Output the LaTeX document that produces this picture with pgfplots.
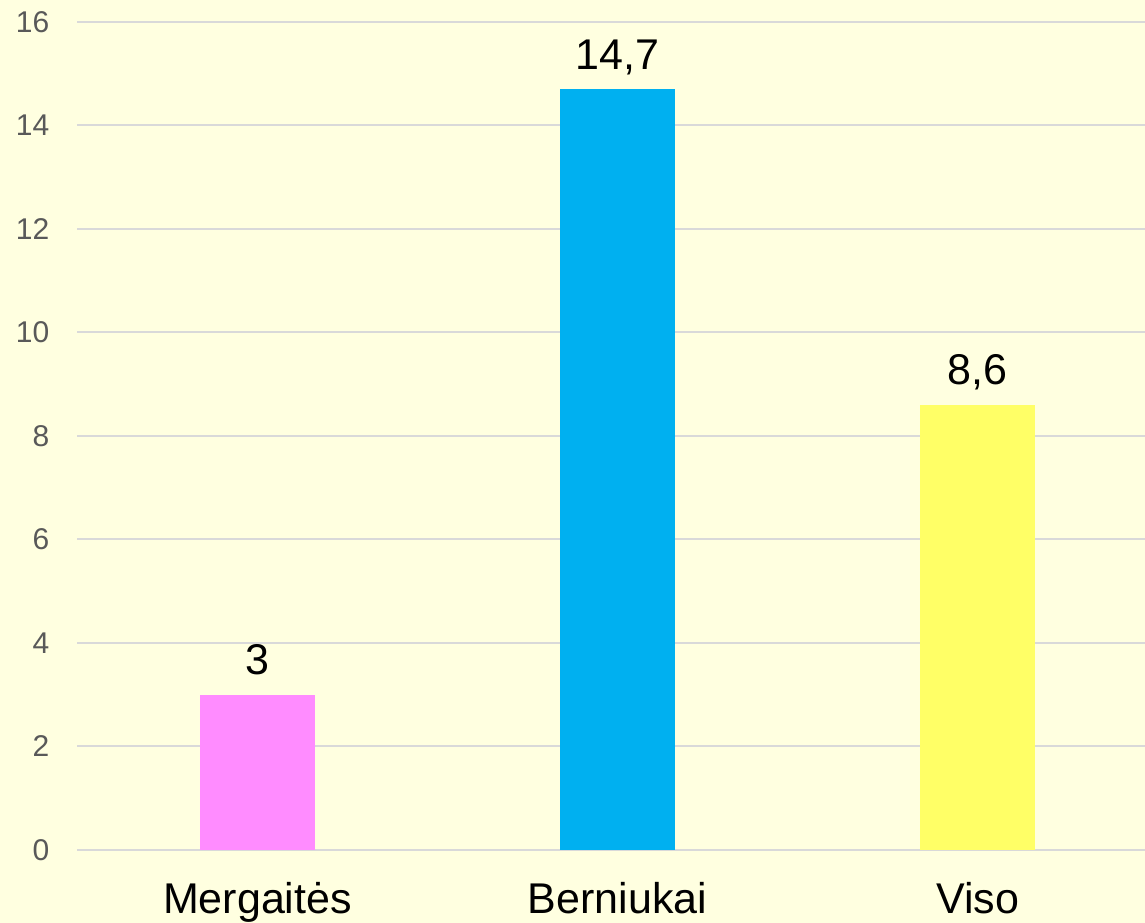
\documentclass[border=0pt]{standalone}
\usepackage{pgfplots}
\pgfplotsset{compat=1.18}
\usepackage{fontspec}
\setmainfont{Liberation Sans}
\definecolor{bgc}{HTML}{FFFFE0}
\definecolor{gridc}{HTML}{D9D9D9}
\definecolor{tickc}{HTML}{595959}
\definecolor{pinkc}{HTML}{FF8CFF}
\definecolor{bluec}{HTML}{00B0F0}
\definecolor{yelc}{HTML}{FFFF66}
\begin{document}
\begin{tikzpicture}
\fill[bgc] (-77.5bp,-73bp) rectangle (1067.5bp,850bp);
\useasboundingbox (-77.5bp,-73bp) rectangle (1067.5bp,850bp);
\begin{axis}[
 at={(0,0)}, anchor=south west,
 scale only axis, width=1067.5bp, height=828bp,
 xmin=-0.5, xmax=2.465, ymin=0, ymax=16,
 axis line style={draw=none},
 major tick length=0pt,
 ytick={0,2,...,16},
 ymajorgrids, grid style={gridc, line width=2bp},
 xtick={0,1,2}, xticklabels={Mergaitės,Berniukai,Viso},
 /pgf/number format/assume math mode=true,
 yticklabel style={font=\fontsize{30bp}{34bp}\selectfont, text=tickc, anchor=east, inner sep=0pt, xshift=-28bp},
 xticklabel style={font=\fontsize{43bp}{48bp}\selectfont, anchor=base, inner sep=0pt, yshift=-63bp},
 ybar, bar width=115bp, bar shift=0pt,
 nodes near coords={\pgfplotspointmeta}, point meta=explicit symbolic,
 every node near coord/.append style={font=\fontsize{43bp}{48bp}\selectfont, anchor=base, yshift=20bp, inner sep=0pt, text=black},
]
\addplot[fill=pinkc, draw=none] coordinates {(0,3) [3]};
\addplot[fill=bluec, draw=none] coordinates {(1,14.7) [14,7]};
\addplot[fill=yelc, draw=none] coordinates {(2,8.6) [8,6]};
\end{axis}
\end{tikzpicture}
\end{document}
